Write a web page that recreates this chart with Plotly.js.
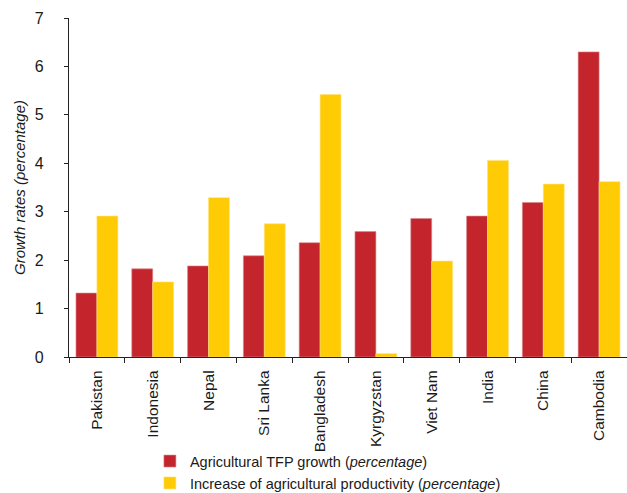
<!DOCTYPE html>
<html>
<head>
<meta charset="utf-8">
<script src="https://cdn.plot.ly/plotly-3.0.1.min.js"></script>
<style>html,body{margin:0;padding:0;background:#fff;}#chart{width:627px;height:493px;}</style>
</head>
<body>
<div id="chart"></div>
<script>
const countries = ["Pakistan","Indonesia","Nepal","Sri Lanka","Bangladesh","Kyrgyzstan","Viet Nam","India","China","Cambodia"];
const tfpGrowth = [1.32,1.82,1.88,2.09,2.36,2.59,2.86,2.91,3.19,6.30];
const productivityIncrease = [2.91,1.55,3.29,2.75,5.42,0.07,1.98,4.06,3.57,3.62];
const seriesNames = ["Agricultural TFP growth (<i>percentage</i>)","Increase of agricultural productivity (<i>percentage</i>)"];
const yTicks = [0,1,2,3,4,5,6,7];

const fam = "Liberation Sans, Arial, sans-serif";
const font = {family: fam, size: 15, color: "#1a1a1a"};
const xFont = {family: fam, size: 15.5, color: "#1a1a1a"};
const legendFont = {family: fam, size: 14.5, color: "#1a1a1a"};

const traces = [
  {type: "bar", x: countries, y: tfpGrowth, name: seriesNames[0],
   marker: {color: "#C4252D", line: {color: "#D98A8E", width: 0.6}}},
  {type: "bar", x: countries, y: productivityIncrease, name: seriesNames[1],
   marker: {color: "#FECB05", line: {color: "#FFE27A", width: 0.6}}}
];

const layout = {
  width: 627, height: 493,
  margin: {l: 69, r: 0, t: 18, b: 136, autoexpand: false},
  paper_bgcolor: "#fff", plot_bgcolor: "#fff",
  font: font,
  barmode: "group", bargap: 0.25, bargroupgap: 0,
  showlegend: true,
  legend: {x: 0.145, xanchor: "left", y: -0.26, yanchor: "top", orientation: "v",
           font: legendFont, tracegroupgap: 0, itemwidth: 30, bgcolor: "rgba(0,0,0,0)"},
  xaxis: {
    type: "category", tickangle: -90, tickson: "boundaries",
    ticks: "outside", ticklen: 5, tickwidth: 1, tickcolor: "#222",
    showline: true, linecolor: "#222", linewidth: 1.2,
    showgrid: false, zeroline: false, tickfont: xFont, ticklabelstandoff: 6
  },
  yaxis: {
    range: [0, 7], tickvals: yTicks, ticktext: yTicks.map(String),
    ticks: "outside", ticklen: 4, tickwidth: 1, tickcolor: "#222",
    showline: true, linecolor: "#222", linewidth: 1.2,
    showgrid: false, zeroline: false, tickfont: {family: fam, size: 16, color: "#1a1a1a"},
    ticklabelstandoff: 17,
    title: {text: "<i>Growth rates (percentage)</i>", font: font, standoff: 5}
  }
};

Plotly.newPlot("chart", traces, layout, {displayModeBar: false, staticPlot: true});
</script>
</body>
</html>
